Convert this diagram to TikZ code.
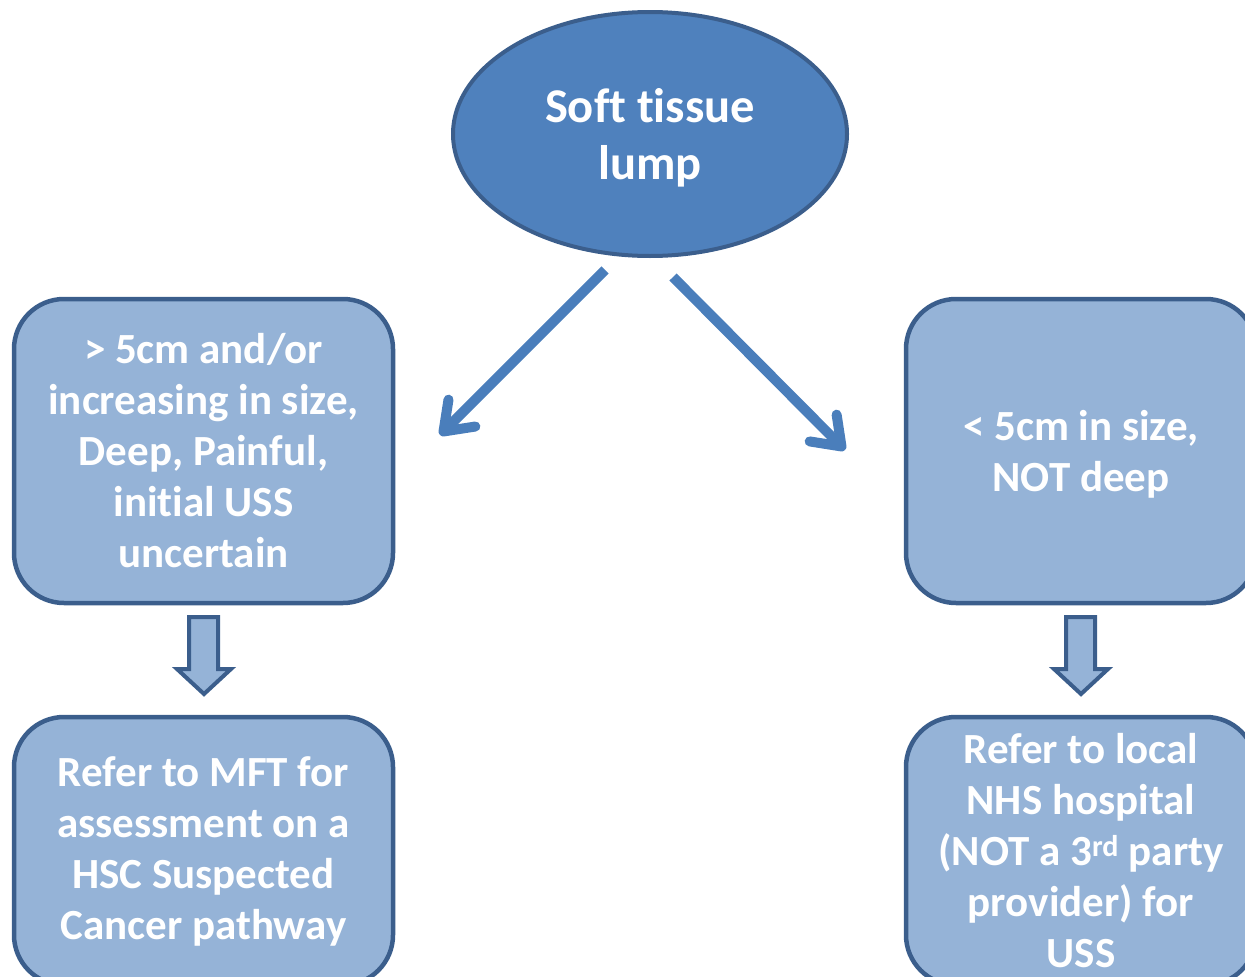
\documentclass[tikz,border=0pt]{standalone}
\usepackage{fontspec}
\setmainfont[Ligatures=NoCommon]{Carlito}
\usetikzlibrary{arrows.meta,shapes.geometric}
\definecolor{ellfill}{HTML}{4F81BD}
\definecolor{boxfill}{HTML}{95B3D7}
\definecolor{edge}{HTML}{3B5E8C}
\definecolor{arr}{HTML}{4A7EBB}
\tikzset{
  ell/.style={ellipse, draw=edge, fill=ellfill, line width=4pt},
  elltext/.style={text=white, font=\fontsize{48.5}{57}\selectfont\bfseries, align=center},
  rbox/.style={draw=edge, fill=boxfill, line width=4.5pt, rounded corners=50pt,
    text=white, font=\fontsize{43}{51}\selectfont\bfseries, align=center, inner sep=0pt},
  boxtext/.style={text=white, font=\fontsize{43}{51}\selectfont\bfseries, align=center, inner sep=0pt},
  thin arrow/.style={draw=arr, line width=10pt, -{Straight Barb[length=26pt,width=38pt,round]}},
  block arrow/.style={draw=edge, fill=boxfill, line width=4pt, line join=miter}
}
\begin{document}
\begin{tikzpicture}[x=1pt,y=-1pt]
\useasboundingbox (0,0) rectangle (1245,977);
\node[ell, minimum width=394pt, minimum height=244pt] (lump) at (650,134) {};
\node[elltext] (lumptext) at (650,138) {Soft tissue\\lump};
\node[rbox, minimum width=379pt, minimum height=304pt] (big) at (203.5,451)
  {> 5cm and/or\\increasing in size,\\Deep, Painful,\\initial USS\\uncertain};
\node[rbox, minimum width=350pt, minimum height=304pt] (small) at (1081,451) {};
\node[boxtext] (smalltext) at (1081,454) {< 5cm in size,\\NOT deep};
\node[rbox, minimum width=379pt, minimum height=268pt] (mft) at (203.5,851)
  {Refer to MFT for\\assessment on a\\HSC Suspected\\Cancer pathway};
\node[rbox, minimum width=350pt, minimum height=268pt] (nhs) at (1081,851)
  {Refer to local\\NHS hospital\\(NOT a 3\textsuperscript{rd} party\\provider) for\\USS};
\coordinate (ls) at (605,270);
\coordinate (le) at (440,435);
\coordinate (rs) at (673,277);
\coordinate (re) at (845,450);
\draw[thin arrow] (ls) -- (le);
\draw[thin arrow] (rs) -- (re);
\draw[block arrow] (189,617) -- (218,617) -- (218,669) -- (231,669) -- (204,694)
  -- (177,669) -- (189,669) -- cycle;
\draw[block arrow] (1066,617) -- (1095,617) -- (1095,669) -- (1108,669) -- (1081,694)
  -- (1054,669) -- (1066,669) -- cycle;
\end{tikzpicture}
\end{document}
